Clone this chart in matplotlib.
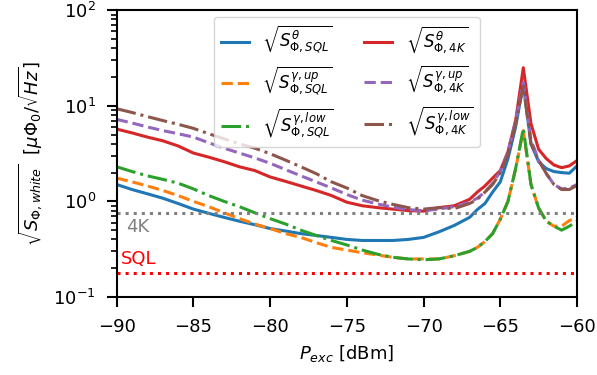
import matplotlib
matplotlib.use("Agg")
import matplotlib.pyplot as plt

# Excitation power (dBm)
p_exc = [-90, -89, -88, -87, -86, -85, -84, -83, -82, -81, -80, -79, -78, -77, -76,
         -75, -74, -73, -72, -71, -70, -69, -68, -67, -66.5, -66, -65.5, -65, -64.5,
         -64, -63.5, -63, -62.5, -62, -61.5, -61, -60.5, -60]

# white flux noise sqrt(S) in uPhi0/sqrt(Hz)
theta_sql = [1.5, 1.33, 1.2, 1.08, 0.95, 0.83, 0.75, 0.68, 0.62, 0.57, 0.52, 0.49, 0.46, 0.44, 0.42,
             0.40, 0.39, 0.39, 0.39, 0.40, 0.42, 0.48, 0.56, 0.68, 0.82, 0.95, 1.25, 1.6, 2.8,
             6.0, 17, 4.0, 2.6, 2.2, 2.05, 2.0, 1.97, 2.35]
up_sql = [1.75, 1.6, 1.45, 1.3, 1.15, 1.0, 0.88, 0.76, 0.66, 0.58, 0.52, 0.46, 0.42, 0.37, 0.33,
          0.31, 0.29, 0.275, 0.26, 0.25, 0.25, 0.25, 0.27, 0.3, 0.33, 0.38, 0.46, 0.65, 1.0,
          2.2, 5.5, 1.5, 0.85, 0.62, 0.55, 0.55, 0.63, 0.68]
low_sql = [2.3, 2.05, 1.85, 1.7, 1.55, 1.35, 1.15, 1.0, 0.88, 0.76, 0.66, 0.58, 0.50, 0.44, 0.39,
           0.35, 0.31, 0.28, 0.26, 0.25, 0.245, 0.25, 0.27, 0.3, 0.33, 0.38, 0.46, 0.65, 1.0,
           2.2, 5.8, 1.5, 0.85, 0.62, 0.55, 0.5, 0.55, 0.62]
theta_4k = [5.7, 5.2, 4.7, 4.3, 3.8, 3.2, 2.9, 2.6, 2.3, 2.1, 1.8, 1.62, 1.45, 1.3, 1.15,
            0.98, 0.9, 0.86, 0.83, 0.8, 0.79, 0.86, 0.9, 1.05, 1.25, 1.45, 1.75, 2.1, 3.3,
            7.0, 25, 6.5, 3.5, 2.8, 2.4, 2.25, 2.35, 2.67]
up_4k = [7.2, 6.6, 6.0, 5.5, 5.1, 4.7, 4.1, 3.6, 3.2, 2.85, 2.5, 2.15, 1.85, 1.6, 1.38,
         1.18, 1.03, 0.94, 0.87, 0.82, 0.8, 0.83, 0.88, 0.98, 1.08, 1.25, 1.55, 2.05, 3.3,
         7.0, 17.5, 4.4, 2.7, 1.95, 1.5, 1.35, 1.38, 1.5]
low_4k = [9.3, 8.5, 7.7, 7.0, 6.4, 5.8, 5.1, 4.5, 4.0, 3.6, 3.15, 2.7, 2.3, 1.95, 1.6,
          1.38, 1.15, 1.02, 0.93, 0.86, 0.83, 0.86, 0.84, 0.95, 1.05, 1.25, 1.5, 2.0, 3.1,
          6.5, 16, 4.0, 2.7, 1.95, 1.5, 1.33, 1.33, 1.47]

level_4k = 0.76
level_sql = 0.18

plt.rcParams['font.size'] = 13

fig = plt.figure(figsize=(5.97, 3.75), dpi=100)
ax = fig.add_axes([0.1955, 0.208, 0.771, 0.765])

ax.plot(p_exc, theta_sql, color='C0', lw=2.2, label=r'$\sqrt{S^{\theta}_{\Phi, SQL}}$')
ax.plot(p_exc, up_sql, color='C1', lw=2.2, ls='--', label=r'$\sqrt{S^{\gamma, up}_{\Phi, SQL}}$')
ax.plot(p_exc, low_sql, color='C2', lw=2.2, ls='-.', label=r'$\sqrt{S^{\gamma, low}_{\Phi, SQL}}$')
ax.plot(p_exc, theta_4k, color='C3', lw=2.2, label=r'$\sqrt{S^{\theta}_{\Phi, 4K}}$')
ax.plot(p_exc, up_4k, color='C4', lw=2.2, ls='--', label=r'$\sqrt{S^{\gamma, up}_{\Phi, 4K}}$')
ax.plot(p_exc, low_4k, color='C5', lw=2.2, ls='-.', label=r'$\sqrt{S^{\gamma, low}_{\Phi, 4K}}$')

# reference noise levels
ax.axhline(level_4k, color='grey', ls=':', lw=2.2)
ax.axhline(level_sql, color='red', ls=':', lw=2.2)
ax.text(-89.4, 0.54, '4K', color='grey', va='center')
ax.text(-89.7, 0.25, 'SQL', color='red', va='center')

ax.set_yscale('log')
ax.set_xlim(-90, -60)
ax.set_ylim(0.1, 100)
ax.set_xticks([-90, -85, -80, -75, -70, -65, -60])
ax.tick_params(which='major', length=7, width=1.5, pad=8)
ax.tick_params(which='minor', length=4, width=1.2)
for s in ax.spines.values():
    s.set_linewidth(1.5)
ax.set_xlabel(r'$P_{exc}$ [dBm]', labelpad=5)
ax.set_ylabel(r'$\sqrt{S_{\Phi, white}}$  [$\mu\Phi_0/\sqrt{Hz}$]', labelpad=6)

ax.legend(ncol=2, loc='upper center', bbox_to_anchor=(0.5, 1.0), fontsize=12,
          handlelength=1.7, columnspacing=1.8, borderaxespad=0.4)

plt.savefig('out.png', dpi=100)
plt.close()
